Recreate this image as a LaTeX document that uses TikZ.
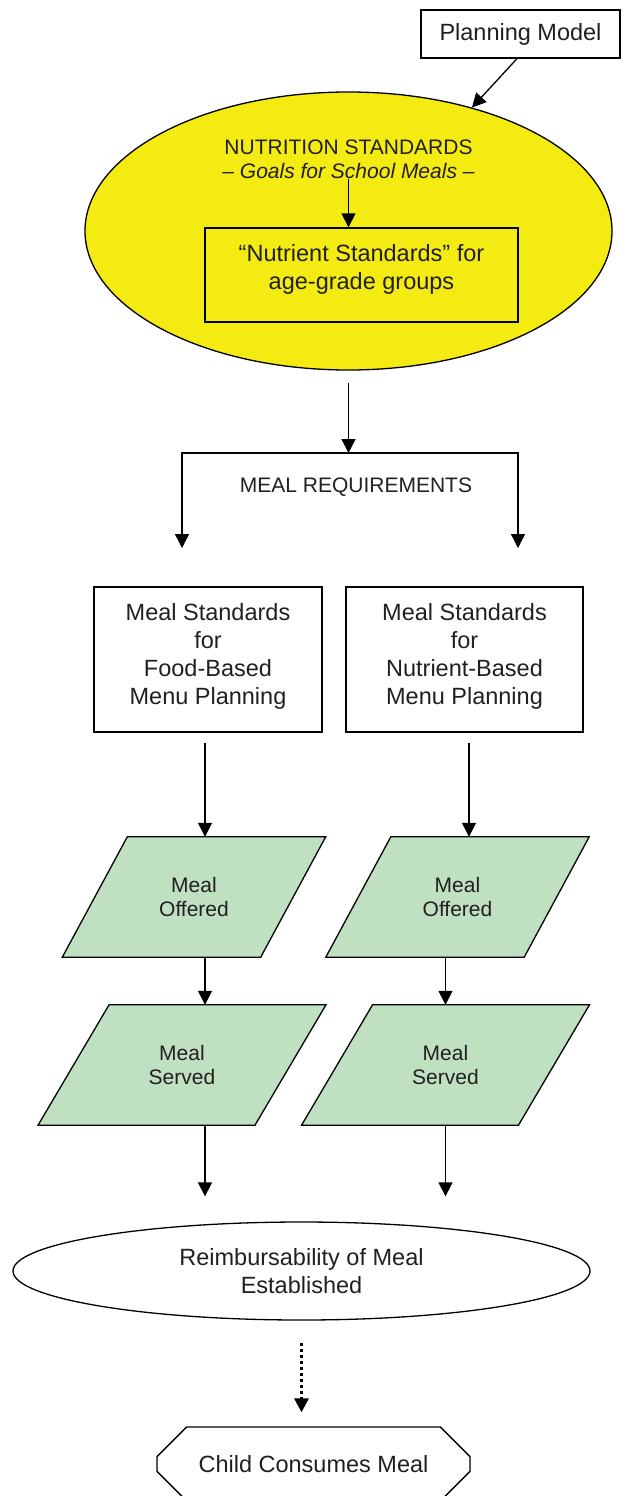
\documentclass[tikz,border=0pt]{standalone}
\usepackage{fontspec}
\setmainfont{Liberation Sans}
\usetikzlibrary{positioning,arrows.meta,shapes.geometric,shapes.misc,backgrounds}
\definecolor{MealYellow}{HTML}{F3EB12}
\definecolor{MealGreen}{HTML}{BFE0C1}
\definecolor{MealInk}{HTML}{231F20}

\begin{document}
\begin{tikzpicture}[x=1pt, y=-1pt,
  bigfont/.style={font=\fontsize{23.5}{28}\selectfont, text=MealInk, align=center},
  smallfont/.style={font=\fontsize{21}{24}\selectfont, text=MealInk, align=center},
  stdbox/.style={rectangle, draw=black, line width=1.3pt, inner sep=0pt, bigfont},
  paratext/.style={rectangle, minimum height=120pt, inner sep=0pt, smallfont},
  mealpara/.style={draw=black, line width=1.3pt, fill=MealGreen, line join=miter},
  arrow/.style={-{Triangle[length=14pt,width=14pt]}, line width=1.3pt},
  dotarrow/.style={arrow, line width=3pt, dash pattern=on 3pt off 3pt}]

  \useasboundingbox (0,0) rectangle (628,1496);

  \node[stdbox, minimum width=199pt, minimum height=48pt] (plan) at (520.5,34) {Planning Model};

  % nutrition standards
  \node[ellipse, draw=black, line width=1.3pt, fill=MealYellow, minimum width=527pt,
    minimum height=278pt, inner sep=0pt] (goals) at (348.5,231) {};
  \node[smallfont, inner sep=0pt] (goaltitle) at (348.5,159)
    {NUTRITION STANDARDS\\{\itshape – Goals for School Meals –}};
  \node[stdbox, fill=MealYellow, minimum width=313pt, minimum height=94pt] (nutstd)
    at (361.5,275) {“Nutrient Standards” for\\age-grade groups\\[-12pt]\mbox{}};

  % meal requirements
  \coordinate (split) at (348.5,453);
  \coordinate (reqL) at (182,548);
  \coordinate (reqR) at (518,548);
  \node[smallfont] (mealreq) at (356,487) {MEAL REQUIREMENTS};

  \node[stdbox, minimum width=228pt, minimum height=145pt] (foodstd) at (208,659.5)
    {Meal Standards\\for\\Food-Based\\Menu Planning\\[-17pt]\mbox{}};
  \node[stdbox, minimum width=237pt, minimum height=145pt] (nutrstd) at (464.5,659.5)
    {Meal Standards\\for\\Nutrient-Based\\Menu Planning\\[-17pt]\mbox{}};

  % the two columns
  \coordinate (colL) at (205,0);
  \coordinate (colR) at (445.5,0);
  \coordinate (colRtop) at (469,0);
  \node[paratext, minimum width=198pt] (offL) at (194,897) {Meal\\Offered};
  \node[paratext, minimum width=198pt] (offR) at (457.5,897) {Meal\\Offered};
  \node[paratext, minimum width=216.5pt] (servL) at (182,1065) {Meal\\Served};
  \node[paratext, minimum width=216.5pt] (servR) at (445.5,1065) {Meal\\Served};

  \begin{pgfonlayer}{background}
    \foreach \n/\s in {offL/32.5, offR/32.5, servL/35.5, servR/35.5}
      \draw[mealpara] ([xshift=\s pt]\n.north west) -- ([xshift=\s pt]\n.north east)
        -- ([xshift=-\s pt]\n.south east) -- ([xshift=-\s pt]\n.south west) -- cycle;
  \end{pgfonlayer}

  \node[ellipse, draw=black, line width=1.3pt, minimum width=577pt, minimum height=98pt,
    inner sep=0pt, bigfont] (reimb) at (301.5,1271) {Reimbursability of Meal\\Established};
  \node[chamfered rectangle, chamfered rectangle xsep=21pt, chamfered rectangle ysep=21pt,
    draw=black, line width=1.3pt, minimum width=313pt, minimum height=74pt, inner sep=0pt,
    bigfont] (child) at (313.5,1464) {Child Consumes Meal};

  \draw[arrow] ([xshift=-3.5pt]plan.south) -- (goals.45.7);
  \draw[arrow] (goaltitle.south) -- (goaltitle.south |- nutstd.north);
  \draw[arrow, shorten <=12pt] (goals.south) -- (split);
  \draw[arrow] (split) -| (reqL);
  \draw[arrow] (split) -| (reqR);

  \draw[arrow, shorten <=10pt] (foodstd.south -| colL) -- (offL.north -| colL);
  \draw[arrow, shorten <=10pt] (nutrstd.south -| colRtop) -- (offR.north -| colRtop);
  \draw[arrow] (offL.south -| colL) -- (servL.north -| colL);
  \draw[arrow] (offR.south -| colR) -- (servR.north -| colR);
  \draw[arrow, shorten >=25pt] (servL.south -| colL) -- (reimb.north -| colL);
  \draw[arrow, shorten >=25pt] (servR.south -| colR) -- (reimb.north -| colR);

  \draw[dotarrow, shorten <=22pt, shorten >=14pt] (reimb.south) -- (reimb.south |- child.north);
\end{tikzpicture}
\end{document}
